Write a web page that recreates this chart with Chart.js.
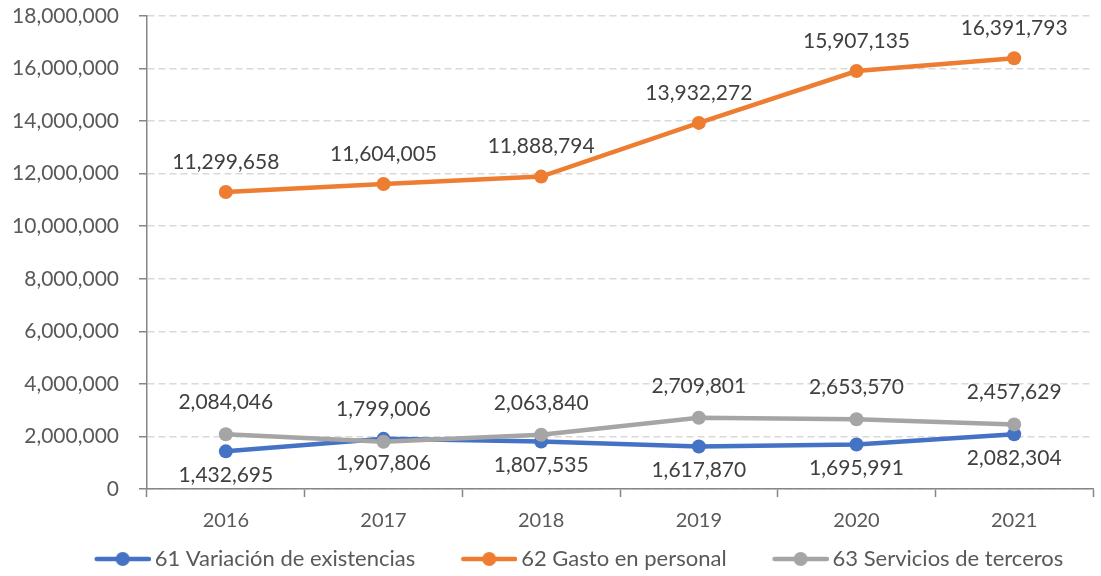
<!DOCTYPE html>
<html>
<head>
<meta charset="utf-8">
<script src="https://cdn.jsdelivr.net/npm/chart.js@4/dist/chart.umd.min.js"></script>
<style>
  html, body { margin: 0; padding: 0; background: #fff; }
  #wrap { width: 1101px; height: 576px; position: relative; }
</style>
</head>
<body>
<div id="wrap"><canvas id="c"></canvas></div>
<script>
const categories = ['2016', '2017', '2018', '2019', '2020', '2021'];
const variacionExistencias = [1432695, 1907806, 1807535, 1617870, 1695991, 2082304];
const gastoPersonal = [11299658, 11604005, 11888794, 13932272, 15907135, 16391793];
const serviciosTerceros = [2084046, 1799006, 2063840, 2709801, 2653570, 2457629];
const seriesNames = ['61 Variación de existencias', '62 Gasto en personal', '63 Servicios de terceros'];
const yTickMax = 18000000;
const yTickStep = 2000000;

const FONT = 'Lato, "Open Sans", sans-serif';
const colors = ['#4472C4', '#ED7D31', '#A5A5A5'];
const labelOffsets = [24, -30, -32];
const LEGEND_BOX = 85;
const LEGEND_PAD = 10;
const LEGEND_SHIFT = 14.5;

function legendMarker(color) {
  const cv = document.createElement('canvas');
  cv.width = LEGEND_BOX + 14; cv.height = 18;
  const g = cv.getContext('2d');
  g.strokeStyle = color; g.lineWidth = 4.5; g.lineCap = 'round';
  g.beginPath(); g.moveTo(45, 9); g.lineTo(97, 9); g.stroke();
  g.fillStyle = color;
  g.beginPath(); g.arc(71, 9, 7, 0, Math.PI * 2); g.fill();
  return cv;
}

const fmt = v => v.toLocaleString('en-US');

const dataLabels = {
  id: 'dataLabels',
  afterLayout(chart) {
    if (chart.legend) {
      chart.legend.left += LEGEND_SHIFT;
      chart.legend.right += LEGEND_SHIFT;
    }
  },
  afterDatasetsDraw(chart) {
    const ctx = chart.ctx;
    ctx.save();
    ctx.font = '21px ' + FONT;
    ctx.fillStyle = '#404040';
    ctx.textAlign = 'center';
    ctx.textBaseline = 'middle';
    chart.data.datasets.forEach((ds, i) => {
      const meta = chart.getDatasetMeta(i);
      meta.data.forEach((pt, j) => {
        ctx.fillText(fmt(ds.data[j]), pt.x, pt.y + labelOffsets[i]);
      });
    });
    ctx.restore();
  }
};

const mk = (label, data, color, order) => ({
  label, data, order,
  borderColor: color, backgroundColor: color,
  borderWidth: 4.5, pointRadius: 7, pointHoverRadius: 7,
  pointBackgroundColor: color, pointBorderColor: color, pointBorderWidth: 0,
  pointStyle: 'circle', tension: 0
});

const datasets = [
  mk(seriesNames[0], variacionExistencias, colors[0], 2),
  mk(seriesNames[1], gastoPersonal, colors[1], 1),
  mk(seriesNames[2], serviciosTerceros, colors[2], 0)
];
const markers = colors.map(legendMarker);

new Chart(document.getElementById('c'), {
  type: 'line',
  data: { labels: categories, datasets },
  plugins: [dataLabels],
  options: {
    responsive: true,
    maintainAspectRatio: false,
    animation: false,
    layout: { autoPadding: false, padding: { left: 0, right: 8, top: 0, bottom: -4 } },
    plugins: {
      tooltip: { enabled: false },
      legend: {
        position: 'bottom',
        labels: {
          font: { family: FONT, size: 22 },
          color: '#595959',
          usePointStyle: true,
          pointStyleWidth: LEGEND_BOX,
          padding: LEGEND_PAD,
          generateLabels(chart) {
            return chart.data.datasets.map((d, i) => ({
              text: d.label,
              fillStyle: d.borderColor,
              strokeStyle: d.borderColor,
              lineWidth: 0,
              pointStyle: markers[i],
              datasetIndex: i,
              hidden: false,
              fontColor: '#595959'
            }));
          }
        }
      }
    },
    scales: {
      x: {
        offset: true,
        afterFit: s => { s.height = 49; },
        grid: { offset: true, drawOnChartArea: false, drawTicks: true, tickLength: 8, tickColor: '#868686', tickWidth: 1.5 },
        border: { display: true, color: '#868686', width: 1.5 },
        ticks: { font: { family: FONT, size: 20 }, color: '#595959', padding: 12 }
      },
      y: {
        min: 0, max: yTickMax,
        afterFit: s => { s.width = 147; s.paddingTop = 16; s.paddingBottom = 0; },
        grid: { color: '#d9d9d9', lineWidth: 1.5, tickLength: 8, tickColor: '#868686', tickWidth: 1.5, tickBorderDash: [] },
        border: { display: true, color: '#868686', width: 1.5, dash: [7, 4] },
        ticks: { stepSize: yTickStep, font: { family: FONT, size: 21 }, color: '#595959', padding: 20, callback: v => fmt(v) }
      }
    }
  }
});
</script>
</body>
</html>
